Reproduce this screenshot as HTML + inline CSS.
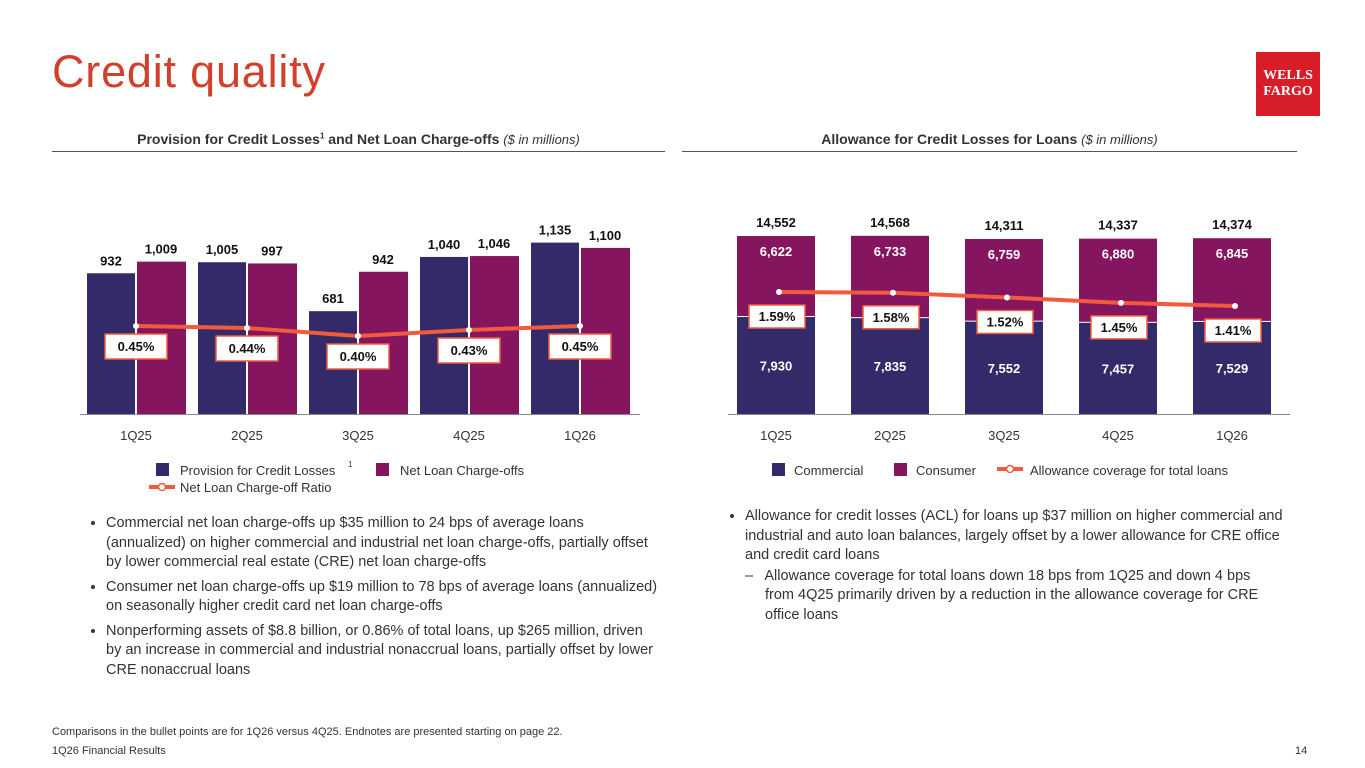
<!DOCTYPE html>
<html><head><meta charset="utf-8">
<style>
body{margin:0;width:1365px;height:768px;background:#fff;font-family:"Liberation Sans",sans-serif;position:relative;overflow:hidden;color:#222}
.abs{position:absolute}
h1{position:absolute;left:52px;top:46px;margin:0;font-weight:normal;font-size:45px;color:#d2402c;letter-spacing:0.8px}
.logo{left:1256px;top:52px;width:64px;height:64px;background:#d71e28;color:#fff;font-family:"Liberation Serif",serif;font-weight:bold;font-size:14px;line-height:16px;text-align:center;display:flex;align-items:center;justify-content:center}
.sec{font-size:14px;font-weight:bold;color:#333;text-align:center;border-bottom:1px solid #555;padding-bottom:4px}
.sec i{font-weight:normal;font-size:13px}
ul{margin:0;padding-left:18px;font-size:14.5px;line-height:19.5px;color:#333}
li{margin-bottom:5px}
.foot{font-size:11px;color:#333}
</style></head><body>
<h1>Credit quality</h1>
<div class="abs logo">WELLS<br>FARGO</div>
<div class="abs sec" style="left:52px;top:131px;width:613px">Provision for Credit Losses<sup style="font-size:8px">1</sup> and Net Loan Charge-offs <i>($ in millions)</i></div>
<div class="abs sec" style="left:682px;top:131px;width:615px">Allowance for Credit Losses for Loans <i>($ in millions)</i></div>
<svg id="chart" class="abs" style="left:0;top:0" width="1365" height="768"></svg>
<div class="abs" style="left:88px;top:514px;width:570px"><ul>
<li>Commercial net loan charge-offs up $35 million to 24 bps of average loans (annualized) on higher commercial and industrial net loan charge-offs, partially offset by lower commercial real estate (CRE) net loan charge-offs</li>
<li>Consumer net loan charge-offs up $19 million to 78 bps of average loans (annualized) on seasonally higher credit card net loan charge-offs</li>
<li>Nonperforming assets of $8.8 billion, or 0.86% of total loans, up $265 million, driven by an increase in commercial and industrial nonaccrual loans, partially offset by lower CRE nonaccrual loans</li></ul></div>
<div class="abs" style="left:727px;top:507px;width:560px"><ul>
<li>Allowance for credit losses (ACL) for loans up $37 million on higher commercial and industrial and auto loan balances, largely offset by a lower allowance for CRE office and credit card loans</li></ul>
<div style="font-size:14.5px;line-height:19.5px;color:#333;padding-left:38px;text-indent:-20px;margin-top:-4px;width:510px">–&nbsp;&nbsp; Allowance coverage for total loans down 18 bps from 1Q25 and down 4 bps from 4Q25 primarily driven by a reduction in the allowance coverage for CRE office loans</div></div>
<div class="abs foot" style="left:52px;top:726px">Comparisons in the bullet points are for 1Q26 versus 4Q25. Endnotes are presented starting on page 22.</div>
<div class="abs foot" style="left:52px;top:745px">1Q26 Financial Results</div>
<div class="abs foot" style="left:1295px;top:745px">14</div>
<script>
const quarters=["1Q25","2Q25","3Q25","4Q25","1Q26"];
const provision=[932,1005,681,1040,1135];
const chargeoffs=[1009,997,942,1046,1100];
const chargeoffRatio=[0.45,0.44,0.40,0.43,0.45];
const commercial=[7930,7835,7552,7457,7529];
const consumer=[6622,6733,6759,6880,6845];
const coverage=[1.59,1.58,1.52,1.45,1.41];
const NS="http://www.w3.org/2000/svg",svg=document.getElementById('chart');
const PUR="#332a69",MAG="#86155f",RED="#f15a3d";
function mk(t,a,txt){const e=document.createElementNS(NS,t);for(const k in a)e.setAttribute(k,a[k]);if(txt!=null)e.textContent=txt;svg.appendChild(e);return e;}
const fmt=v=>v.toLocaleString('en-US');
const base=414;
// left chart
const lx=i=>136+i*111, ly=v=>base-v*0.151, lr=v=>416-v*200;
mk('line',{x1:80,y1:base+0.5,x2:640,y2:base+0.5,stroke:'#888','stroke-width':1});
quarters.forEach((q,i)=>{
 let e=mk('rect',{x:lx(i)-49,y:ly(provision[i]),width:48,height:base-ly(provision[i]),fill:PUR});
 
 e=mk('rect',{x:lx(i)+1,y:ly(chargeoffs[i]),width:49,height:base-ly(chargeoffs[i]),fill:MAG});
 
 mk('text',{x:lx(i)-25,y:ly(provision[i])-8,'text-anchor':'middle','font-size':13,'font-weight':'bold',fill:'#111'},fmt(provision[i]));
 mk('text',{x:lx(i)+25,y:ly(chargeoffs[i])-8,'text-anchor':'middle','font-size':13,'font-weight':'bold',fill:'#111'},fmt(chargeoffs[i]));
 mk('text',{x:lx(i),y:440,'text-anchor':'middle','font-size':13,fill:'#333'},q);
});
mk('polyline',{points:chargeoffRatio.map((v,i)=>lx(i)+','+lr(v)).join(' '),fill:'none',stroke:RED,'stroke-width':4});
chargeoffRatio.forEach((v,i)=>{
 mk('circle',{cx:lx(i),cy:lr(v),r:3,fill:'#fff'});
 const b=mk('rect',{x:lx(i)-31,y:lr(v)+8,width:62,height:25,fill:'#fff',stroke:RED,'stroke-width':1.5});
 
 mk('text',{x:lx(i),y:lr(v)+25,'text-anchor':'middle','font-size':13,'font-weight':'bold',fill:'#111'},v.toFixed(2)+'%');
});
// right chart
const rx=i=>776+i*114, ry=v=>base-v*0.01223, rc=v=>292+(1.59-v)*77.8;
mk('line',{x1:728,y1:base+0.5,x2:1290,y2:base+0.5,stroke:'#888','stroke-width':1});
quarters.forEach((q,i)=>{
 const t=commercial[i]+consumer[i];
 let e=mk('rect',{x:rx(i)-39,y:ry(commercial[i]),width:78,height:base-ry(commercial[i]),fill:PUR});
 
 e=mk('rect',{x:rx(i)-39,y:ry(t),width:78,height:ry(commercial[i])-ry(t)-1,fill:MAG});
 
 mk('text',{x:rx(i),y:ry(t)-9,'text-anchor':'middle','font-size':13,'font-weight':'bold',fill:'#111'},fmt(t));
 mk('text',{x:rx(i),y:ry(t)+20,'text-anchor':'middle','font-size':13,'font-weight':'bold',fill:'#fff'},fmt(consumer[i]));
 mk('text',{x:rx(i),y:(ry(commercial[i])+base)/2+5,'text-anchor':'middle','font-size':13,'font-weight':'bold',fill:'#fff'},fmt(commercial[i]));
 mk('text',{x:rx(i),y:440,'text-anchor':'middle','font-size':13,fill:'#333'},q);
});
mk('polyline',{points:coverage.map((v,i)=>(rx(i)+3)+','+rc(v)).join(' '),fill:'none',stroke:RED,'stroke-width':4});
coverage.forEach((v,i)=>{
 mk('circle',{cx:rx(i)+3,cy:rc(v),r:3,fill:'#fff'});
 const b=mk('rect',{x:rx(i)-27,y:rc(v)+13,width:56,height:23,fill:'#fff',stroke:RED,'stroke-width':1.5});
 
 mk('text',{x:rx(i)+1,y:rc(v)+29,'text-anchor':'middle','font-size':13,'font-weight':'bold',fill:'#111'},v.toFixed(2)+'%');
});
// legends
function sw(x,y,c){mk('rect',{x:x,y:y,width:13,height:13,fill:c});}
function lineSw(x,y){mk('line',{x1:x,y1:y,x2:x+26,y2:y,stroke:RED,'stroke-width':4});mk('circle',{cx:x+13,cy:y,r:3.5,fill:'#fff',stroke:RED,'stroke-width':1.5});}
const lt={'font-size':13,fill:'#333'};
sw(156,463,PUR);mk('text',Object.assign({x:180,y:475},lt),'Provision for Credit Losses');mk('text',{x:348,y:467,'font-size':8,fill:'#333'},'1');
sw(376,463,MAG);mk('text',Object.assign({x:400,y:475},lt),'Net Loan Charge-offs');
lineSw(149,487);mk('text',Object.assign({x:180,y:492},lt),'Net Loan Charge-off Ratio');
sw(772,463,PUR);mk('text',Object.assign({x:794,y:475},lt),'Commercial');
sw(894,463,MAG);mk('text',Object.assign({x:916,y:475},lt),'Consumer');
lineSw(997,469);mk('text',Object.assign({x:1030,y:475},lt),'Allowance coverage for total loans');
</script>
</body></html>
